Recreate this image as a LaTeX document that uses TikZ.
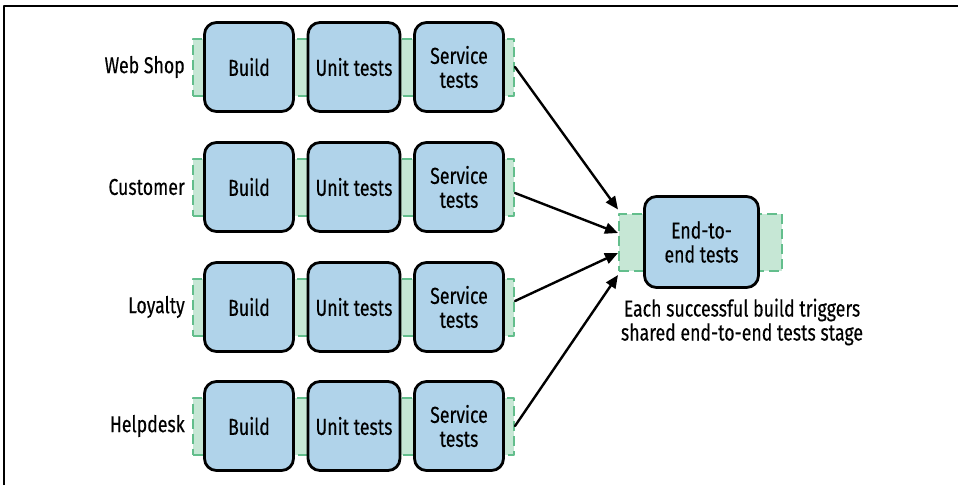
\documentclass[tikz,border=0pt]{standalone}
\usepackage{fontspec}
\setmainfont[FakeStretch=0.77,FakeBold=0.3]{Fira Sans}
\usetikzlibrary{arrows.meta}
\definecolor{stageblue}{HTML}{B0D3EA}
\definecolor{bandfill}{HTML}{C6E7D5}
\definecolor{bandgreen}{HTML}{63BE8C}
\begin{document}
\begin{tikzpicture}[x=1pt,y=-1pt,line cap=round,line join=round,
    stage/.style={draw=black,line width=2.8pt,fill=stageblue,rounded corners=12pt,
      minimum width=89pt,minimum height=89pt,inner sep=0pt,align=center,
      font=\fontsize{23}{24}\selectfont},
    band/.style={draw=bandgreen,fill=bandfill,line width=2pt,line cap=butt,
      dash pattern=on 10pt off 5pt,minimum height=57pt,inner sep=0pt},
    team/.style={anchor=east,inner sep=0pt,font=\fontsize{23}{24}\selectfont},
    feed/.style={line width=2.4pt,-{Triangle[length=13pt,width=11pt]}}]
  \useasboundingbox (0,0) rectangle (958,485);
  \draw[line width=1.5pt,line cap=butt] (4,485) -- (4,6) -- (958,6);
  % one pipeline per team
  \foreach \n/\y/\name in {1/67/Web Shop,2/187/Customer,3/307/Loyalty,4/426/Helpdesk} {
    \node[band,minimum width=321pt] (band\n) at (353.5,\y) {};
    \node[stage] (build\n) at (249,\y) {Build};
    \node[stage,minimum width=92pt] (unit\n) at (354,\y) {Unit tests};
    \node[stage] (service\n) at (459,\y) {Service\\tests};
    \node[team] (team\n) at (185,\y) {\name};
  }
  % shared stage
  \node[band,minimum width=163pt] (e2eband) at (700.5,242.5) {};
  \node[stage,minimum width=114pt,minimum height=91pt] (e2e) at (701.5,242) {End-to-\\end tests};
  \node[align=center,inner sep=0pt,font=\fontsize{23}{24}\selectfont] (note) at (742,322)
    {Each successful build triggers\\shared end-to-end tests stage};
  \foreach \n/\s/\e in {1/0/33,2/-6/9.5,3/6/-10.5,4/0/-32.5}
    \draw[feed] ([yshift=\s pt]band\n.east) -- ([yshift=\e pt]e2eband.west);
\end{tikzpicture}
\end{document}
